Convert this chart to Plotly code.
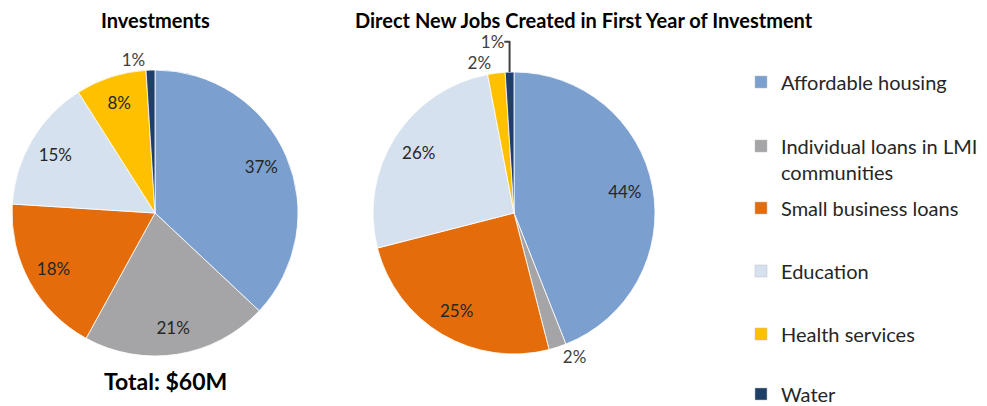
import plotly.graph_objects as go

W, H = 987, 406

categories = ["Affordable housing", "Individual loans in LMI communities", "Small business loans",
              "Education", "Health services", "Water"]
legend_labels = ["Affordable housing", "Individual loans in LMI<br>communities", "Small business loans",
                 "Education", "Health services", "Water"]
colors = ["#7ba0cf", "#a5a5a8", "#e46c0a", "#d6e1f0", "#ffc000", "#1f3f66"]

investments_pct = [37, 21, 18, 15, 8, 1]
jobs_pct = [44, 2, 25, 26, 2, 1]

inv_textpos = ["inside", "inside", "inside", "inside", "inside", "outside"]
jobs_textpos = ["inside", "outside", "inside", "inside", "outside", "outside"]

FONT = "Lato"
TXT = "#262626"

def px_x(x):
    return x / W

def px_y(y):
    return 1 - y / H

fig = go.Figure()

pies = [
    (investments_pct, inv_textpos, (12, 298), (70, 356), 0.62),
    (jobs_pct, jobs_textpos, (373, 655), (72, 354), 0.6),
]
for vals, tpos, (x0, x1), (y0, y1), hole in pies:
    dom = dict(x=[px_x(x0), px_x(x1)], y=[px_y(y1), px_y(y0)])
    # filled pie (no labels)
    fig.add_trace(go.Pie(
        labels=categories, values=vals, sort=False, direction="clockwise",
        marker=dict(colors=colors, line=dict(color="white", width=0.8)),
        textinfo="none", domain=dom, showlegend=False, hoverinfo="label+value",
    ))
    # transparent ring overlay carrying the data labels, so they sit out toward the rim
    fig.add_trace(go.Pie(
        labels=categories, values=vals, sort=False, direction="clockwise", hole=hole,
        marker=dict(colors=["rgba(0,0,0,0)"] * len(vals), line=dict(width=0)),
        texttemplate="%{value}%", textposition=tpos, insidetextorientation="horizontal",
        textfont=dict(family=FONT, size=17, color=TXT),
        outsidetextfont=dict(family=FONT, size=17, color="#404040"),
        domain=dom, showlegend=False, hoverinfo="skip",
    ))

# legend entries: one legend per item for Excel-like spacing
legend_y = [82, 159, 208, 271, 334, 394]
for i, (lab, col) in enumerate(zip(legend_labels, colors)):
    lname = "legend" if i == 0 else f"legend{i + 1}"
    fig.add_trace(go.Scatter(
        x=[None], y=[None], mode="markers", name=lab,
        marker=dict(symbol="square", size=12, color=col, line=dict(color="#bfbfbf", width=0.5)),
        legend=lname, showlegend=True, hoverinfo="skip",
    ))

layout_legends = {}
for i, yy in enumerate(legend_y):
    lname = "legend" if i == 0 else f"legend{i + 1}"
    layout_legends[lname] = dict(
        x=px_x(741), y=px_y(yy), xanchor="left", yanchor="middle",
        font=dict(family=FONT, size=20, color=TXT), bgcolor="rgba(0,0,0,0)",
        borderwidth=0, valign="top",
    )

fig.update_layout(
    width=W, height=H, margin=dict(l=0, r=0, t=0, b=0, autoexpand=False),
    paper_bgcolor="white", plot_bgcolor="white",
    xaxis=dict(visible=False), yaxis=dict(visible=False),
    font=dict(family=FONT, color=TXT),
    annotations=[
        dict(text="<b>Investments</b>", x=px_x(155), y=px_y(20), xref="paper", yref="paper",
             xanchor="center", yanchor="middle", showarrow=False,
             font=dict(family=FONT, size=20, color="black")),
        dict(text="<b>Direct New Jobs Created in First Year of Investment</b>", x=px_x(584), y=px_y(20),
             xref="paper", yref="paper", xanchor="center", yanchor="middle", showarrow=False,
             font=dict(family=FONT, size=20, color="black")),
        dict(text="<b>Total: $60M</b>", x=px_x(165), y=px_y(381), xref="paper", yref="paper",
             xanchor="center", yanchor="middle", showarrow=False,
             font=dict(family=FONT, size=23, color="black")),
    ],
    **layout_legends,
)

fig.write_html("out.html")
